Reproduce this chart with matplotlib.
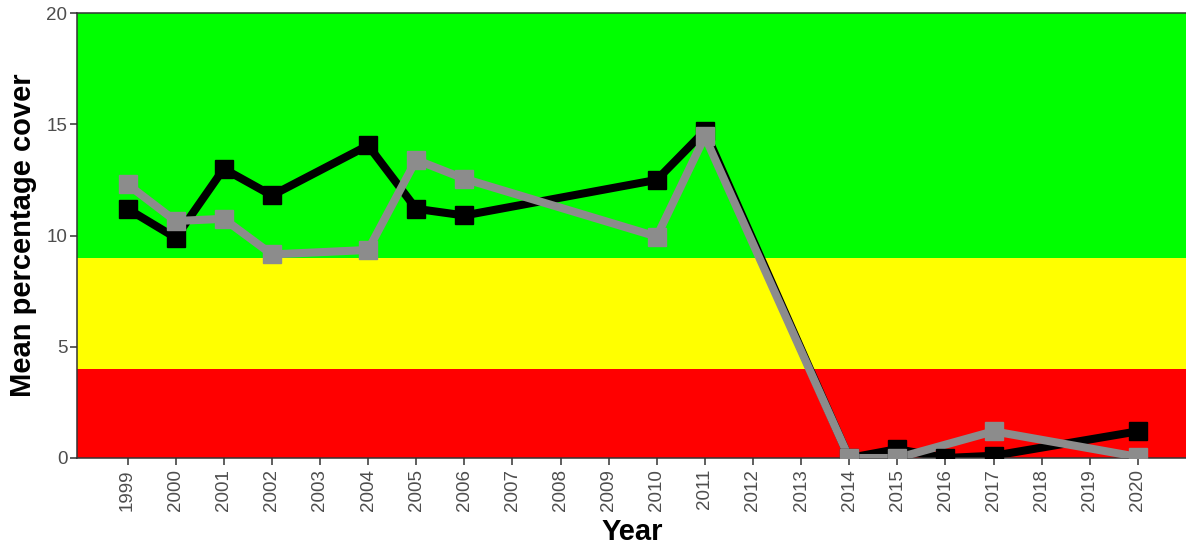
import matplotlib.pyplot as plt

plt.rcParams['font.family'] = ['Liberation Sans', 'DejaVu Sans']

# survey years and mean cover per series
years_black = [1999, 2000, 2001, 2002, 2004, 2005, 2006, 2010, 2011, 2014, 2015, 2016, 2017, 2020]
cover_black = [11.2, 9.9, 13.0, 11.8, 14.05, 11.2, 10.9, 12.5, 14.7, 0.0, 0.4, 0.0, 0.1, 1.2]
years_grey = [1999, 2000, 2001, 2002, 2004, 2005, 2006, 2010, 2011, 2014, 2015, 2017, 2020]
cover_grey = [12.3, 10.65, 10.75, 9.15, 9.35, 13.4, 12.55, 9.95, 14.45, 0.0, 0.0, 1.2, 0.05]

# condition bands (lower, upper, colour)
bands = [(0, 4, '#FF0000'), (4, 9, '#FFFF00'), (9, 20, '#00FF00')]

tick_years = list(range(1999, 2021))

fig = plt.figure(figsize=(11.86, 5.51), dpi=100)
ax = fig.add_axes([77 / 1186, 1 - 458 / 551, 1 - 77 / 1186 + 0.002, (458 - 13) / 551])

for lo, hi, col in bands:
    ax.axhspan(lo, hi, color=col, zorder=0, linewidth=0)

ax.plot(years_black, cover_black, color='black', linewidth=5.8, zorder=2, solid_joinstyle='miter')
ax.plot(years_grey, cover_grey, color='#8C8C8C', linewidth=5.8, zorder=3, solid_joinstyle='miter')
ax.plot(years_black, cover_black, color='black', linestyle='none', marker='s', markersize=13, zorder=4)
ax.plot(years_grey, cover_grey, color='#8C8C8C', linestyle='none', marker='s', markersize=13, zorder=5)

ax.set_xlim(1997.95, 2021.05)
ax.set_ylim(0, 20)
ax.set_xticks(tick_years)
ax.set_xticklabels([str(y) for y in tick_years], rotation=90)
ax.set_yticks([0, 5, 10, 15, 20])

ax.tick_params(axis='both', colors='#333333', length=5, width=1.1, labelcolor='#4D4D4D')
ax.tick_params(axis='x', labelsize=13.5, pad=3)
ax.tick_params(axis='y', labelsize=13.5, pad=2)
for s in ax.spines.values():
    s.set_color('#333333')
    s.set_linewidth(1.1)

ax.set_xlabel('Year', fontsize=21, fontweight='bold', labelpad=5)
ax.set_ylabel('Mean percentage cover', fontsize=21, fontweight='bold', labelpad=7)

fig.savefig('out.png', dpi=100)
